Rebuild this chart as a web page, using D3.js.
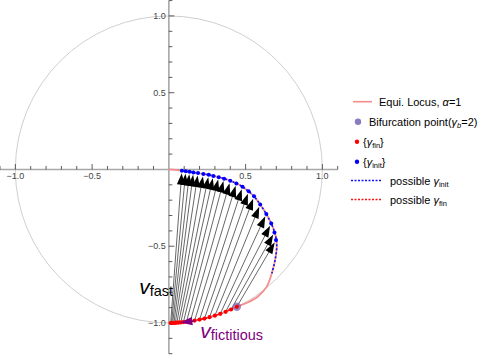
<!DOCTYPE html>
<html>
<head>
<meta charset="utf-8">
<script src="https://cdn.jsdelivr.net/npm/d3@7"></script>
<style>
  body { margin: 0; background: #fff; }
  svg { display: block; font-family: "Liberation Sans", Arial, sans-serif; }
</style>
</head>
<body>
<svg id="chart" width="498" height="356"></svg>
<script>
// equilibrium locus (alpha = 1)
const locusX = [0, 0.085, 0.16, 0.225, 0.29, 0.355, 0.41, 0.464, 0.51, 0.555, 0.595, 0.635, 0.671, 0.695, 0.703, 0.692, 0.671, 0.638, 0.58, 0.51, 0.443, 0.367, 0.29, 0.2, 0.1, 0];
const locusY = [0, -0.008, -0.019, -0.029, -0.042, -0.058, -0.078, -0.103, -0.135, -0.175, -0.228, -0.29, -0.36, -0.43, -0.5, -0.59, -0.676, -0.763, -0.827, -0.868, -0.894, -0.927, -0.955, -0.978, -0.993, -1];

// which part of the locus is "possible gamma_init" / "possible gamma_fin"
const possibleInitRange = [1, 16];
const possibleFinRange = [20, 25];

// gamma_init points (arrow tips) and gamma_fin points (arrow tails)
const initX = [0.085, 0.11, 0.135, 0.16, 0.19, 0.225, 0.26, 0.29, 0.325, 0.36, 0.4, 0.44, 0.48, 0.52, 0.555, 0.595, 0.635, 0.667, 0.688, 0.698];
const initY = [-0.008, -0.011, -0.015, -0.019, -0.023, -0.029, -0.035, -0.042, -0.05, -0.06, -0.074, -0.091, -0.113, -0.142, -0.175, -0.228, -0.29, -0.352, -0.41, -0.46];
const finX = [0.012, 0.018, 0.025, 0.033, 0.042, 0.052, 0.064, 0.078, 0.095, 0.115, 0.14, 0.168, 0.2, 0.232, 0.265, 0.3, 0.335, 0.37, 0.405, 0.443];
const finY = [-1.0, -1.0, -1.0, -0.999, -0.999, -0.998, -0.997, -0.996, -0.994, -0.992, -0.988, -0.984, -0.978, -0.971, -0.962, -0.952, -0.94, -0.927, -0.912, -0.894];

const bifurcation = [0.443, -0.894];
const fictitiousFrom = [0.17, -0.986];
const fictitiousTo = [0.075, -0.997];

const xTickValues = [-1, -0.5, 0.5, 1];
const yTickValues = [-1, -0.5, 0.5, 1];
const xMinor = d3.range(-11, 12).map(d => d / 10);
const yMinor = d3.range(-12, 12).map(d => d / 10);

const svg = d3.select("#chart");

const x = d3.scaleLinear().domain([-1.1, 1.1]).range([0, 337.7]);
const y = d3.scaleLinear().domain([-1.2, 1.1]).range([353.7, 0.6]);

const fmt = d => d3.format(".1f")(d).replace("-", "\u2212");
const isMajor = d => Math.abs(d * 2 - Math.round(d * 2)) < 1e-9;

// unit circle
svg.append("circle")
    .attr("cx", x(0)).attr("cy", y(0))
    .attr("r", x(1) - x(0))
    .attr("fill", "none")
    .attr("stroke", "#c9c9c9")
    .attr("stroke-width", 0.9);

// axes through the origin
const xAxis = svg.append("g").attr("transform", `translate(0,${y(0)})`);
xAxis.append("line")
    .attr("x1", x(-1.1)).attr("x2", x(1.1))
    .attr("stroke", "#a8a8a8").attr("stroke-width", 1.6);
xAxis.selectAll(".minor").data(xMinor.filter(d => Math.abs(d) > 1e-9)).enter().append("line")
    .attr("x1", d => x(d)).attr("x2", d => x(d))
    .attr("y1", 0)
    .attr("y2", d => isMajor(d) ? -5.5 : -3.5)
    .attr("stroke", "#333").attr("stroke-width", 0.8);
xAxis.selectAll(".lbl").data(xTickValues).enter().append("text")
    .attr("x", d => x(d)).attr("y", 10)
    .attr("text-anchor", "middle")
    .attr("font-size", 9).attr("fill", "#444")
    .text(fmt);

const yAxis = svg.append("g").attr("transform", `translate(${x(0)},0)`);
yAxis.append("line")
    .attr("y1", y(1.1)).attr("y2", y(-1.2))
    .attr("stroke", "#a8a8a8").attr("stroke-width", 1.6);
yAxis.selectAll(".minor").data(yMinor.filter(d => Math.abs(d) > 1e-9)).enter().append("line")
    .attr("y1", d => y(d)).attr("y2", d => y(d))
    .attr("x1", 0)
    .attr("x2", d => isMajor(d) ? 5.5 : 3.5)
    .attr("stroke", "#333").attr("stroke-width", 0.8);
yAxis.selectAll(".lbl").data(yTickValues).enter().append("text")
    .attr("x", -3).attr("y", d => y(d) + 3.2)
    .attr("text-anchor", "end")
    .attr("font-size", 9).attr("fill", "#444")
    .text(fmt);

// locus and the dashed possible-regions
const locus = locusX.map((d, i) => [d, locusY[i]]);
const line = d3.line().x(d => x(d[0])).y(d => y(d[1])).curve(d3.curveCatmullRom);

svg.append("path").attr("d", line(locus))
    .attr("fill", "none").attr("stroke", "#f78c8c").attr("stroke-width", 1.8);

svg.append("path").attr("d", line(locus.slice(possibleInitRange[0], possibleInitRange[1] + 1)))
    .attr("fill", "none").attr("stroke", "#1010ff").attr("stroke-width", 1.6)
    .attr("stroke-dasharray", "2,2");
svg.append("path").attr("d", line(locus.slice(possibleFinRange[0], possibleFinRange[1] + 1)))
    .attr("fill", "none").attr("stroke", "#ff1010").attr("stroke-width", 1.6)
    .attr("stroke-dasharray", "2,2");

// arrows from gamma_fin to gamma_init
function arrow(g, p0, p1, color, headLen, headW, lw, setback) {
    const dx = p1[0] - p0[0], dy = p1[1] - p0[1];
    const len = Math.hypot(dx, dy);
    const ux = dx / len, uy = dy / len;
    const tip = [p1[0] - ux * setback, p1[1] - uy * setback];
    const base = [tip[0] - ux * headLen, tip[1] - uy * headLen];
    g.append("line")
        .attr("x1", p0[0]).attr("y1", p0[1])
        .attr("x2", base[0] + ux * 1).attr("y2", base[1] + uy * 1)
        .attr("stroke", color).attr("stroke-width", lw);
    g.append("path")
        .attr("d", `M${tip[0]},${tip[1]}L${base[0] - uy * headW},${base[1] + ux * headW}L${base[0] + uy * headW},${base[1] - ux * headW}Z`)
        .attr("fill", color);
}

const arrows = svg.append("g");
initX.forEach((d, i) => {
    arrow(arrows, [x(finX[i]), y(finY[i])], [x(d), y(initY[i])], "#000", 11.5, 4, 0.6, 2.5);
});

// points
svg.append("g").selectAll("circle").data(finX).enter().append("circle")
    .attr("cx", d => x(d)).attr("cy", (d, i) => y(finY[i]))
    .attr("r", 2.1).attr("fill", "#ff0000");
svg.append("g").selectAll("circle").data(initX).enter().append("circle")
    .attr("cx", d => x(d)).attr("cy", (d, i) => y(initY[i]))
    .attr("r", 2).attr("fill", "#0000ff");

svg.append("circle")
    .attr("cx", x(bifurcation[0])).attr("cy", y(bifurcation[1]))
    .attr("r", 4.2).attr("fill", "#7a68b8").attr("fill-opacity", 0.75);
svg.append("circle")
    .attr("cx", x(bifurcation[0])).attr("cy", y(bifurcation[1]))
    .attr("r", 2).attr("fill", "#ff0000");

// fictitious velocity arrow
arrow(svg, [x(fictitiousFrom[0]), y(fictitiousFrom[1])], [x(fictitiousTo[0]), y(fictitiousTo[1])], "#800080", 12, 4.2, 1.4, 0);

// annotations
const vFast = svg.append("text").attr("x", x(-0.193)).attr("y", y(-0.811)).attr("fill", "#000");
vFast.append("tspan").attr("font-size", 21).attr("font-style", "italic").text("v");
vFast.append("tspan").attr("font-size", 14.5).attr("dy", 2).text("fast");

const vFict = svg.append("text").attr("x", x(0.204)).attr("y", y(-1.098)).attr("fill", "#800080");
vFict.append("tspan").attr("font-size", 21).attr("font-style", "italic").text("v");
vFict.append("tspan").attr("font-size", 14.5).attr("dy", 2).text("fictitious");

// legend
const legend = svg.append("g").attr("font-size", 11).attr("fill", "#000");
const rowY = [101.7, 121.7, 141.7, 161.7, 180.5, 199.5];

legend.append("line").attr("x1", 353).attr("x2", 372).attr("y1", rowY[0]).attr("y2", rowY[0])
    .attr("stroke", "#f78c8c").attr("stroke-width", 1.6);
let t = legend.append("text").attr("x", 379).attr("y", rowY[0] + 4);
t.append("tspan").text("Equi. Locus, ");
t.append("tspan").attr("font-style", "italic").text("\u03b1");
t.append("tspan").text("=1");

legend.append("circle").attr("cx", 358).attr("cy", rowY[1]).attr("r", 3.2).attr("fill", "#8a7cbc");
t = legend.append("text").attr("x", 369).attr("y", rowY[1] + 4);
t.append("tspan").text("Bifurcation point(");
t.append("tspan").attr("font-style", "italic").text("\u03b3");
t.append("tspan").attr("font-style", "italic").attr("font-size", 7.5).attr("dy", 2).text("b");
t.append("tspan").attr("dy", -2).text("=2)");

[["fin", "#ff0000"], ["init", "#0000ff"]].forEach((d, i) => {
    const ry = rowY[2 + i];
    legend.append("circle").attr("cx", 357).attr("cy", ry).attr("r", 2.2).attr("fill", d[1]);
    const tt = legend.append("text").attr("x", 363).attr("y", ry + 4);
    tt.append("tspan").text("{");
    tt.append("tspan").attr("font-style", "italic").text("\u03b3");
    tt.append("tspan").attr("font-size", 7.5).attr("dy", 2).text(d[0]);
    tt.append("tspan").attr("dy", -2).text("}");
});

[["init", "#1010ff"], ["fin", "#ff1010"]].forEach((d, i) => {
    const ry = rowY[4 + i];
    legend.append("line").attr("x1", 351).attr("x2", 381).attr("y1", ry).attr("y2", ry)
        .attr("stroke", d[1]).attr("stroke-width", 1.5).attr("stroke-dasharray", "2,1.5");
    const tt = legend.append("text").attr("x", 390).attr("y", ry + 4);
    tt.append("tspan").text("possible ");
    tt.append("tspan").attr("font-style", "italic").text("\u03b3");
    tt.append("tspan").attr("font-size", 7.5).attr("dy", 2).text(d[0]);
});
</script>
</body>
</html>
